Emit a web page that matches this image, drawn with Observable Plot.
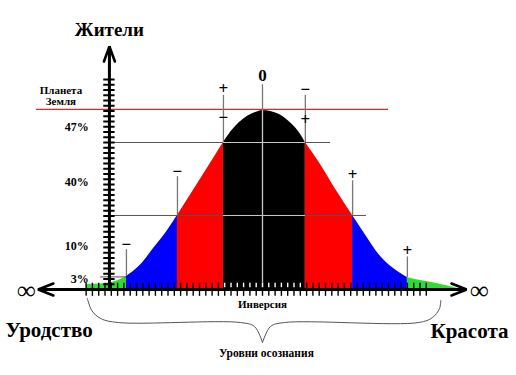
<!DOCTYPE html>
<html>
<head>
<meta charset="utf-8">
<script src="https://cdn.jsdelivr.net/npm/d3@7"></script>
<script src="https://cdn.jsdelivr.net/npm/@observablehq/plot@0.6"></script>
<style>
  html, body { margin: 0; padding: 0; background: #fff; }
  #chart svg { display: block; }
</style>
</head>
<body>
<div id="chart"></div>
<script>
// ---- data (x: awareness levels, 1 unit = one x tick; y: inhabitants, 1 unit = one y tick) ----
const curveX = [-27.9,-25.7,-24.1,-22.9,-21.6,-19.4,-17.3,-15.1,-13.5,-9.8,-6.2,-4.6,-2.7,-1.1,0,1.3,2.9,4.4,6.0,6.8,9.0,11.7,14.3,16.5,18.6,20.8,23.0,25.1,27.8,31.0];
const curveY = [0.95,1.05,1.3,1.7,2.5,4.6,7.8,11.2,14.1,21.1,28.0,30.6,32.7,33.7,34.1,33.9,33.2,31.8,29.6,28.0,24.2,18.9,14.1,10.1,6.5,4.0,2.3,1.7,1.1,0.2];
const zoneBounds = [-27.9, -21.6, -13.5, -6.2, 6.8, 14.3, 23.0, 31.0];
const zoneColors = ["#2fdc2f", "#0000ff", "#ff0000", "#000000", "#ff0000", "#0000ff", "#2fdc2f"];

const pctLabels = ["47%", "40%", "10%", "3%"];
const pctY = [30.95, 20.4, 8.3, 2.0];

const signText = ["−", "−", "+", "−", "0", "−", "+", "+", "+"];
const signX = [-21.6, -13.5, -6.2, -6.2, 0, 6.8, 6.8, 14.3, 23.0];
const signY = [8.5, 22.5, 38.3, 32.8, 40.8, 38.1, 32.4, 21.9, 7.4];

// vertical markers at the zone borders
const markX  = [-21.6, -13.5, -6.2, 6.8, 14.3, 23.0];
const markY1 = [7.6, 21.5, 37.0, 37.0, 20.7, 6.2];
const markY2 = [2.5, 14.1, 28.0, 28.0, 14.1, 2.3];

// horizontal reference levels
const levelY  = [28.0, 14.1, 2.4];
const levelX1 = [-23.7, -23.5, -25.7];
const levelX2 = [10.8, 16.5, -21.6];
const earthY = 34.3, earthX1 = -35.9, earthX2 = 20.0;

const xTicks = d3.range(-28, 27);
const yTicks = d3.range(1, 41);

const yAxisX = -24.3, yAxisTop = 46.3;
const xAxisLeft = -35.6, xAxisRight = 32.4;

// brace under the axis
const braceLeftX  = [-27.8, -27.1, -25.7, -22.9, -3.5, -1.27, 0];
const braceLeftY  = [-1.71, -4.0, -5.52, -6.29, -6.29, -7.05, -10.1];
const braceRightX = [0, 1.27, 3.5, 24.8, 27.0, 28.1, 28.3];
const braceRightY = [-10.1, -7.05, -6.29, -6.29, -5.33, -3.62, -2.1];

// ---- build tables ----
const curve = curveX.map((x, i) => ({x, y: curveY[i]}));
const zones = zoneColors.map((c, k) => ({
  color: c,
  pts: curve.filter(d => d.x >= zoneBounds[k] - 1e-9 && d.x <= zoneBounds[k + 1] + 1e-9)
}));
const blackL = zoneBounds[3], blackR = zoneBounds[4];
const pcts = pctLabels.map((t, i) => ({t, y: pctY[i]}));
const signs = signText.map((t, i) => ({t, x: signX[i], y: signY[i]}));
const marks = markX.map((x, i) => ({x, y1: markY1[i], y2: markY2[i]}));
const levels = levelY.map((y, i) => ({y, x1: levelX1[i], x2: levelX2[i]}));
const levelsInBlack = levels.filter(d => d.x1 < blackL && d.x2 > blackR).map(d => ({y: d.y, x1: blackL, x2: blackR}));
const arrows = [
  {g: "top", x: yAxisX - 0.87, y: yAxisTop - 2.86}, {g: "top", x: yAxisX, y: yAxisTop}, {g: "top", x: yAxisX + 0.87, y: yAxisTop - 2.86},
  {g: "left", x: xAxisLeft + 2.4, y: 1.14}, {g: "left", x: xAxisLeft, y: 0}, {g: "left", x: xAxisLeft + 2.4, y: -1.14},
  {g: "right", x: xAxisRight - 2.4, y: 1.14}, {g: "right", x: xAxisRight, y: 0}, {g: "right", x: xAxisRight - 2.4, y: -1.14}
];
const brace = [
  ...braceLeftX.map((x, i) => ({g: "l", x, y: braceLeftY[i]})),
  ...braceRightX.map((x, i) => ({g: "r", x, y: braceRightY[i]}))
];
const serif = "'Liberation Serif', 'Times New Roman', serif";

const chart = Plot.plot({
  width: 516,
  height: 375,
  margin: 0,
  style: {background: "#fff"},
  x: {domain: [-41.59, 40.32], axis: null},
  y: {domain: [-16.38, 55.05], axis: null},
  marks: [
    ...zones.map(z => Plot.areaY(z.pts, {x: "x", y: "y", fill: z.color, curve: "monotone-x"})),
    // Planet Earth line
    Plot.ruleY([earthY], {x1: earthX1, x2: earthX2, stroke: "#e02626", strokeWidth: 1.3}),
    // levels
    Plot.ruleY(levels, {y: "y", x1: "x1", x2: "x2", stroke: "#555", strokeWidth: 1}),
    Plot.ruleY(levelsInBlack, {y: "y", x1: "x1", x2: "x2", stroke: "#c8c8c8", strokeWidth: 1}),
    // zone markers
    Plot.ruleX(marks, {x: "x", y1: "y1", y2: "y2", stroke: "#777", strokeWidth: 1.3}),
    Plot.ruleX([0], {y1: 39.0, y2: 34.1, stroke: "#777", strokeWidth: 1.3}),
    Plot.ruleX([0], {y1: 34.1, y2: 0, stroke: "#c8c8c8", strokeWidth: 1.3}),
    // x ticks
    Plot.ruleX(xTicks, {y1: -1.3, y2: 1.2, stroke: "#000", strokeWidth: 1.4}),
    Plot.ruleX(xTicks.filter(t => t > blackL && t < blackR), {y1: 0.35, y2: 1.2, stroke: "#fff", strokeWidth: 1.4}),
    // y ticks
    Plot.ruleY(yTicks, {x1: yAxisX - 0.9, x2: yAxisX + 0.9, stroke: "#000", strokeWidth: 2}),
    // axes
    Plot.ruleY([0], {x1: xAxisLeft, x2: xAxisRight, stroke: "#000", strokeWidth: 3}),
    Plot.ruleX([yAxisX], {y1: 0, y2: yAxisTop, stroke: "#000", strokeWidth: 3}),
    Plot.line(arrows, {x: "x", y: "y", z: "g", stroke: "#000", strokeWidth: 2.6, strokeLinejoin: "miter"}),
    // brace
    Plot.line(brace, {x: "x", y: "y", z: "g", stroke: "#555", strokeWidth: 1, curve: "catmull-rom"}),
    // texts
    Plot.text(["Жители"], {x: yAxisX, y: 49.5, text: d => d, fontSize: 19, fontWeight: "bold", fontFamily: serif, fill: "#000", lineAnchor: "middle"}),
    Plot.text(["Планета\nЗемля"], {x: -32.0, y: 36.8, text: d => d, fontSize: 11, fontWeight: "bold", fontFamily: serif, fill: "#000", lineAnchor: "middle", lineHeight: 0.97}),
    Plot.text(pcts, {x: -27.6, y: "y", text: "t", fontSize: 12, fontWeight: "bold", fontFamily: serif, fill: "#000", textAnchor: "end", lineAnchor: "middle"}),
    Plot.text(signs, {x: "x", y: "y", text: "t", fontSize: 17, fontWeight: "bold", fontFamily: serif, fill: "#000", lineAnchor: "middle"}),
    Plot.text(["∞"], {x: -37.5, y: -0.2, text: d => d, fontSize: 26, fontWeight: "bold", fontFamily: serif, fill: "#000", lineAnchor: "middle"}),
    Plot.text(["∞"], {x: 34.4, y: -0.2, text: d => d, fontSize: 26, fontWeight: "bold", fontFamily: serif, fill: "#000", lineAnchor: "middle"}),
    Plot.text(["Инверсия"], {x: 0, y: -2.86, text: d => d, fontSize: 11, fontWeight: "bold", fontFamily: serif, fill: "#000", lineAnchor: "middle"}),
    Plot.text(["Уровни осознания"], {x: 0.63, y: -12.19, text: d => d, fontSize: 11.5, fontWeight: "bold", fontFamily: serif, fill: "#000", lineAnchor: "middle"}),
    Plot.text(["Уродство"], {x: -40.8, y: -7.8, text: d => d, fontSize: 21, fontWeight: "bold", fontFamily: serif, fill: "#000", textAnchor: "start", lineAnchor: "middle"}),
    Plot.text(["Красота"], {x: 39.05, y: -8.0, text: d => d, fontSize: 21, fontWeight: "bold", fontFamily: serif, fill: "#000", textAnchor: "end", lineAnchor: "middle"})
  ]
});
document.getElementById("chart").appendChild(chart);
</script>
</body>
</html>
